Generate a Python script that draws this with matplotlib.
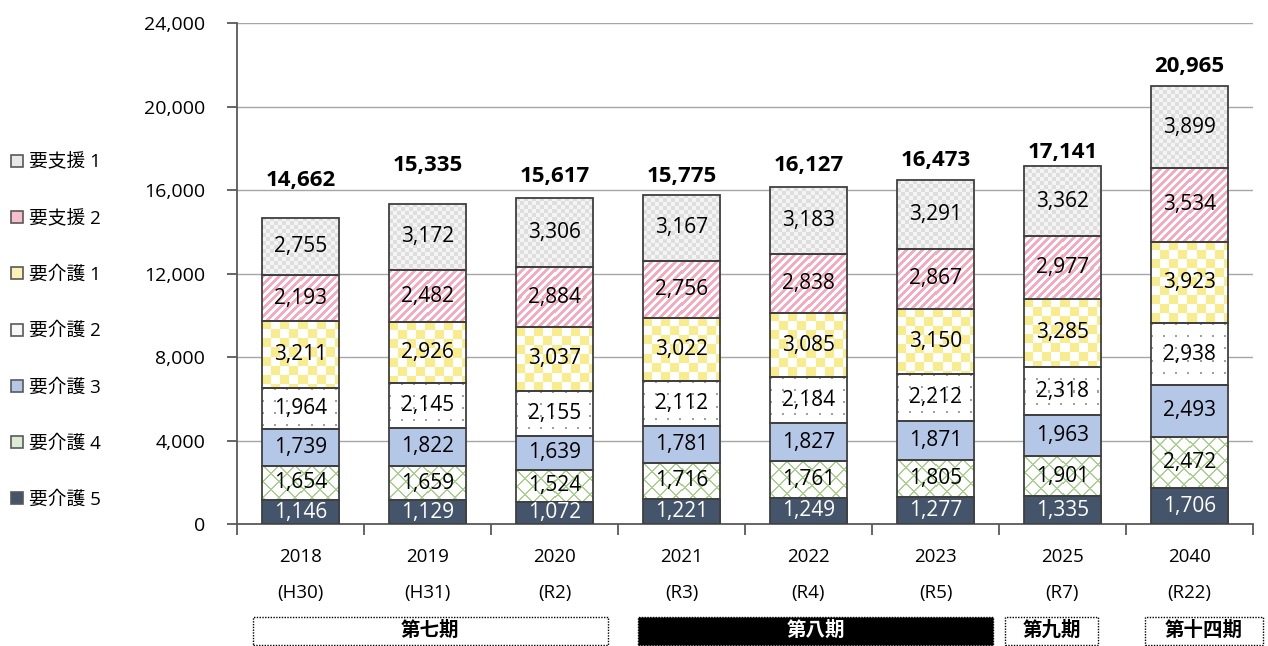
import numpy as np
import matplotlib
matplotlib.use('Agg')
import matplotlib.pyplot as plt
from matplotlib.patches import Patch, Rectangle
from matplotlib.ticker import FuncFormatter, FixedLocator
from matplotlib.transforms import blended_transform_factory

plt.rcParams['font.family'] = ['Open Sans', 'Noto Sans CJK JP', 'DejaVu Sans']

# data
years = ['2018', '2019', '2020', '2021', '2022', '2023', '2025', '2040']
eras = ['(H30)', '(H31)', '(R2)', '(R3)', '(R4)', '(R5)', '(R7)', '(R22)']
# bottom to top
series_names = ['要介護 5', '要介護 4', '要介護 3', '要介護 2', '要介護 1', '要支援 2', '要支援 1']
kaigo5 = [1146, 1129, 1072, 1221, 1249, 1277, 1335, 1706]
kaigo4 = [1654, 1659, 1524, 1716, 1761, 1805, 1901, 2472]
kaigo3 = [1739, 1822, 1639, 1781, 1827, 1871, 1963, 2493]
kaigo2 = [1964, 2145, 2155, 2112, 2184, 2212, 2318, 2938]
kaigo1 = [3211, 2926, 3037, 3022, 3085, 3150, 3285, 3923]
shien2 = [2193, 2482, 2884, 2756, 2838, 2867, 2977, 3534]
shien1 = [2755, 3172, 3306, 3167, 3183, 3291, 3362, 3899]
totals = [14662, 15335, 15617, 15775, 16127, 16473, 17141, 20965]
periods = ['第七期', '第八期', '第九期', '第十四期']

series = [kaigo5, kaigo4, kaigo3, kaigo2, kaigo1, shien2, shien1]
kinds = ['dark', 'cross', 'blue', 'dots', 'ychecker', 'stripes', 'gchecker']
legend_colors = ['#44546A', '#DDEBD3', '#B4C7E7', '#F7F7F7', '#FBF3B5', '#F6BFCD', '#E8E8E8']
text_colors = ['white', 'black', 'black', 'black', 'black', 'black', 'black']
# total labels sit at uneven heights above the bars in the original (px)
total_offsets = [37, 38, 21, 18, 22, 20, 14, 20]


def hexrgb(h):
    return np.array([int(h[i:i + 2], 16) / 255 for i in (1, 3, 5)])


def texture(kind, w, h):
    yy, xx = np.mgrid[0:h, 0:w]
    img = np.ones((h, w, 3))
    if kind == 'dark':
        img[:] = hexrgb('#44546A')
    elif kind == 'blue':
        img[:] = hexrgb('#B4C7E7')
    elif kind == 'gchecker':
        m = ((xx // 4) + (yy // 4)) % 2 == 0
        img[:] = hexrgb('#F4F4F4')
        img[m] = hexrgb('#DEDEDE')
    elif kind == 'ychecker':
        m = ((xx // 9) + (yy // 9)) % 2 == 0
        img[m] = hexrgb('#F8EC8C')
    elif kind == 'stripes':
        m = ((xx + yy) % 8) < 4
        img[m] = hexrgb('#F7A9BD')
    elif kind == 'dots':
        m = ((xx % 12) < 2) & ((yy % 12) < 2)
        img[m] = hexrgb('#A0A0A0')
    elif kind == 'cross':
        m = (((xx + yy) % 16) < 2) | (((xx - yy) % 16) < 2)
        img[m] = hexrgb('#A9D18E')
    return img


fig = plt.figure(figsize=(12.68, 6.46), dpi=100)
ax = fig.add_axes([237 / 1268, 1 - 524 / 646, (1253 - 237) / 1268, 501 / 646])

x = np.arange(len(years))
ax.set_xlim(-0.5, len(years) - 0.5)
ax.set_ylim(0, 24000)

bottom = np.zeros(len(years))
bar_sets = []
for vals in series:
    bars = ax.bar(x, vals, width=0.61, bottom=bottom, facecolor='none',
                  edgecolor='#404040', linewidth=1.3, zorder=3)
    bar_sets.append(bars)
    bottom += np.array(vals)

# fill each bar with its pattern
for bars, kind in zip(bar_sets, kinds):
    for p in bars:
        x0, y0 = p.get_x(), p.get_y()
        x1, y1 = x0 + p.get_width(), y0 + p.get_height()
        (dx0, dy0), (dx1, dy1) = ax.transData.transform([(x0, y0), (x1, y1)])
        w = max(int(round(dx1 - dx0)), 1)
        h = max(int(round(dy1 - dy0)), 1)
        ax.imshow(texture(kind, w, h), extent=(x0, x1, y0, y1), aspect='auto',
                  interpolation='nearest', zorder=2)

ax.set_xlim(-0.5, len(years) - 0.5)
ax.set_ylim(0, 24000)

# segment labels
for bars, vals, tc in zip(bar_sets, series, text_colors):
    for p, v in zip(bars, vals):
        ax.text(p.get_x() + p.get_width() / 2, p.get_y() + p.get_height() / 2,
                f'{v:,}', ha='center', va='center', fontsize=15, color=tc, zorder=4)

for xi, t, off in zip(x, totals, total_offsets):
    ax.annotate(f'{t:,}', (xi, t), xytext=(0, off * 0.72), textcoords='offset points',
                ha='center', va='center', fontsize=16, fontweight='bold')

# axes styling
ax.set_axisbelow(True)
ax.yaxis.grid(True, color='#A6A6A6', linewidth=1)
ax.set_yticks(np.arange(0, 24001, 4000))
ax.yaxis.set_major_formatter(FuncFormatter(lambda v, p: f'{int(v):,}'))
ax.tick_params(axis='y', length=7, width=1.3, color='#595959', pad=16, labelsize=14)
for s in ['top', 'right']:
    ax.spines[s].set_visible(False)
for s in ['left', 'bottom']:
    ax.spines[s].set_color('#595959')
    ax.spines[s].set_linewidth(1.3)

ax.xaxis.set_major_locator(FixedLocator(np.arange(-0.5, len(years), 1.0)))
ax.xaxis.set_major_formatter(FuncFormatter(lambda v, p: ''))
ax.xaxis.set_minor_locator(FixedLocator(x))
ax.set_xticklabels([f'{y}\n{e}' for y, e in zip(years, eras)], minor=True,
                   linespacing=2.3, fontsize=13.5)
ax.tick_params(axis='x', which='major', length=8, width=1.3, color='#595959')
ax.tick_params(axis='x', which='minor', length=0, pad=17)

# period boxes under the axis
tr = blended_transform_factory(ax.transData, ax.transAxes)
boxes = [(-0.374, 2.42, False), (2.66, 5.45, True), (5.55, 6.28, False), (6.65, 7.58, False)]
for label, (b0, b1, filled) in zip(periods, boxes):
    ax.add_patch(Rectangle((b0, -0.2415), b1 - b0, 0.056, transform=tr, clip_on=False,
                           facecolor='black' if filled else 'white',
                           edgecolor='black', linewidth=1, linestyle=(0, (1, 1))))
    ax.text((b0 + b1) / 2, -0.2135, label, transform=tr, ha='center', va='center',
            fontsize=14, fontweight='bold', color='white' if filled else 'black')

# legend (top item first)
handles = [Patch(facecolor=c, edgecolor='#595959', linewidth=1.2)
           for c in legend_colors[::-1]]
fig.legend(handles, series_names[::-1], loc='upper left', bbox_to_anchor=(0.003, 1 - 146 / 646),
           frameon=False, fontsize=13.5, handlelength=0.6, handleheight=0.6,
           handletextpad=0.35, labelspacing=2.04, borderaxespad=0)

fig.savefig('out.png', dpi=100)
